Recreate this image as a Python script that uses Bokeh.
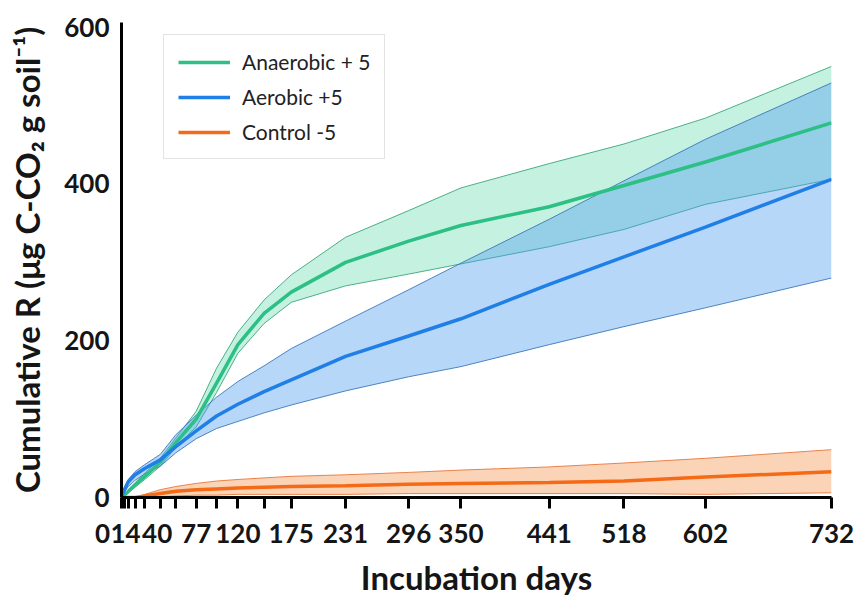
from bokeh.plotting import figure
from bokeh.models import Range1d, FixedTicker, Legend, LegendItem
from bokeh.embed import file_html
from bokeh.resources import INLINE

# ---- data ----
days = [0, 3, 7, 14, 24, 40, 56, 77, 98, 120, 147, 175, 231, 296, 350, 441, 518, 602, 732]

anaerobic_mean = [0, 3, 8, 16, 27, 45, 70, 100, 146, 195, 235, 262, 300, 327, 347, 371, 398, 428, 478]
anaerobic_upper = [0, 4, 10, 19, 31, 50, 76, 110, 165, 211, 252, 284, 332, 366, 395, 426, 451, 484, 550]
anaerobic_lower = [0, 2, 6, 13, 23, 40, 64, 90, 134, 184, 222, 249, 270, 285, 298, 320, 342, 374, 406]

aerobic_mean = [0, 10, 20, 29, 37, 48, 65, 85, 104, 119, 135, 150, 180, 206, 228, 272, 307, 345, 406]
aerobic_upper = [0, 13, 23, 33, 42, 55, 80, 105, 128, 148, 168, 190, 225, 265, 299, 355, 404, 457, 529]
aerobic_lower = [0, 7, 14, 22, 30, 40, 57, 75, 88, 97, 108, 118, 136, 154, 167, 195, 218, 242, 280]

control_mean = [0, 0, 0, 0, 2, 5, 8, 10, 11, 12, 13, 14, 15, 17, 18, 19, 21, 26, 33]
control_upper = [0, 0, 0, 0, 4, 10, 14, 18, 21, 23, 25, 27, 29, 32, 35, 39, 44, 50, 61]
control_lower = [0, 0, 0, 0, 0, 1, 2, 3, 3, 4, 4, 4, 4, 5, 5, 5, 5, 4, 6]

labeled_days = [0, 14, 40, 77, 120, 175, 231, 296, 350, 441, 518, 602, 732]
minor_days = [3, 7, 24, 56, 98, 147]
y_ticks = [0, 200, 400, 600]

series_names = ["Anaerobic + 5", "Aerobic +5", "Control -5"]

# ---- styles ----
FONT = "Lato"
TXT = "#151515"
NB = "\u00a0"
line_colors = ["#2cc085", "#1f7fe6", "#f46a17"]
edge_colors = ["#3aa77c", "#3d79b8", "#e8773a"]
fill_colors = ["#3fd19a", "#4a9cf0", "#f7a060"]
fill_alphas = [0.30, 0.40, 0.45]

p = figure(width=855, height=599, output_backend="svg", toolbar_location=None,
           x_range=Range1d(0, 732), y_range=Range1d(0, 606),
           min_border_left=121, min_border_right=24, min_border_top=22,
           min_border_bottom=102)
p.background_fill_color = "white"
p.border_fill_color = "white"
p.outline_line_color = None
p.xgrid.visible = False
p.ygrid.visible = False

bands = [
    (anaerobic_lower, anaerobic_upper),
    (aerobic_lower, aerobic_upper),
    (control_lower, control_upper),
]
means = [anaerobic_mean, aerobic_mean, control_mean]

for i, (lo, hi) in enumerate(bands):
    p.varea(x=days, y1=lo, y2=hi, fill_color=fill_colors[i], fill_alpha=fill_alphas[i])
    p.line(days, hi, line_color=edge_colors[i], line_width=1, line_alpha=0.9)
    p.line(days, lo, line_color=edge_colors[i], line_width=1, line_alpha=0.9)

mean_renderers = []
for i, m in enumerate(means):
    r = p.line(days, m, line_color=line_colors[i], line_width=3.5)
    mean_renderers.append(r)

# ---- axes ----
xa = p.xaxis[0]
xa.ticker = FixedTicker(ticks=labeled_days, minor_ticks=minor_days)
# the first three labels are crowded in the original and sit left of their ticks
xa.major_label_overrides = {0: "0" + NB * 6, 14: "14" + NB * 3, 40: "40" + NB}
xa.axis_line_width = 3
xa.axis_line_color = "black"
xa.major_tick_line_width = 3
xa.minor_tick_line_width = 3
xa.major_tick_out = 11
xa.major_tick_in = 0
xa.minor_tick_out = 11
xa.minor_tick_in = 0
xa.major_label_standoff = 8
xa.major_label_text_font = FONT
xa.major_label_text_font_style = "bold"
xa.major_label_text_font_size = "26px"
xa.major_label_text_color = TXT
xa.axis_label = "Incubation days"
xa.axis_label_text_font = FONT
xa.axis_label_text_font_style = "bold"
xa.axis_label_text_font_size = "33px"
xa.axis_label_text_color = TXT
xa.axis_label_standoff = 5

ya = p.yaxis[0]
ya.ticker = FixedTicker(ticks=y_ticks, minor_ticks=[])
ya.axis_line_width = 3
ya.axis_line_color = "black"
ya.major_tick_out = 0
ya.major_tick_in = 0
ya.minor_tick_out = 0
ya.minor_tick_in = 0
ya.major_label_standoff = 12
ya.major_label_text_font = FONT
ya.major_label_text_font_style = "bold"
ya.major_label_text_font_size = "26px"
ya.major_label_text_color = TXT
ya.axis_label = "Cumulative R (\u03bcg C-CO\u2082 g soil\u207b\u00b9)"
ya.axis_label_text_font = FONT
ya.axis_label_text_font_style = "bold"
ya.axis_label_text_font_size = "33px"
ya.axis_label_text_color = TXT
ya.axis_label_standoff = 14

# ---- legend ----
legend = Legend(items=[LegendItem(label=n, renderers=[r]) for n, r in zip(series_names, mean_renderers)],
                location=(42, 338))
legend.label_text_font = FONT
legend.label_text_font_size = "21px"
legend.label_text_color = "#222222"
legend.glyph_width = 52
legend.glyph_height = 24
legend.label_height = 24
legend.label_standoff = 12
legend.spacing = 10
legend.padding = 14
legend.margin = 0
legend.border_line_color = "#c8c8c8"
legend.border_line_width = 1
legend.background_fill_color = "white"
legend.background_fill_alpha = 1
p.add_layout(legend)

open("out.html", "w").write(file_html(p, INLINE))
